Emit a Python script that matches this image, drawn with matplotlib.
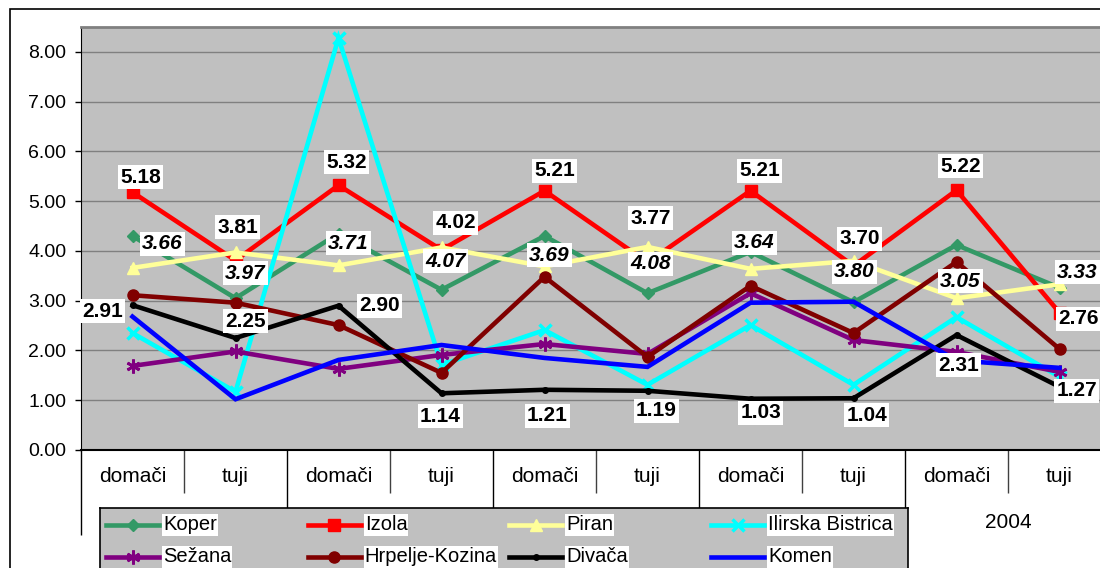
import matplotlib
matplotlib.use('Agg')
import matplotlib.pyplot as plt
import numpy as np
from matplotlib.patches import Rectangle
from matplotlib.ticker import FormatStrFormatter

plt.rcParams['font.family'] = ['Liberation Sans', 'DejaVu Sans']

# data
categories = ['domači', 'tuji'] * 5
year_label = '2004'

koper = [4.30, 3.05, 4.35, 3.22, 4.30, 3.15, 3.98, 2.97, 4.12, 3.26]
izola = [5.18, 3.81, 5.32, 4.02, 5.21, 3.77, 5.21, 3.70, 5.22, 2.76]
piran = [3.66, 3.97, 3.71, 4.07, 3.69, 4.08, 3.64, 3.80, 3.05, 3.33]
ilirska = [2.35, 1.17, 8.28, 1.71, 2.41, 1.31, 2.51, 1.31, 2.67, 1.47]
sezana = [1.69, 1.98, 1.63, 1.91, 2.13, 1.93, 3.15, 2.21, 1.97, 1.57]
hrpelje = [3.11, 2.96, 2.51, 1.55, 3.48, 1.87, 3.30, 2.35, 3.78, 2.03]
divaca = [2.91, 2.25, 2.90, 1.14, 1.21, 1.19, 1.03, 1.04, 2.31, 1.27]
komen = [2.68, 1.02, 1.81, 2.11, 1.85, 1.67, 2.96, 2.98, 1.80, 1.65]

names = ['Koper', 'Izola', 'Piran', 'Ilirska Bistrica',
         'Sežana', 'Hrpelje-Kozina', 'Divača', 'Komen']
values = [koper, izola, piran, ilirska, sezana, hrpelje, divaca, komen]

# styles: colour, marker, marker size, marker edge width
styles = [
    ('#339966', 'D', 6.5, 1),
    ('#FF0000', 's', 8, 1),
    ('#FFFF99', '^', 9, 1),
    ('#00FFFF', 'x', 9, 2.5),
    ('#800080', (6, 2, 0), 10, 2),
    ('#800000', 'o', 8, 1),
    ('#000000', 'o', 4, 1),
    ('#0000FF', None, 0, 1),
]

# label offsets in pixels (dx right, dy down) from the point
izola_off = [(8, -15), (2, -33), (8, -23), (14, -27), (10, -20),
             (3, -44), (9, -20), (6, -27), (4, -24), (19, 6)]
piran_off = [(30, -24), (10, 21), (10, -22), (4, 14), (5, -11),
             (3, 17), (4, -26), (1, 11), (4, -17), (18, -12)]
divaca_off = [(-30, 6), (10, -17), (41, 0), (-1, 23), (3, 26),
              (9, 20), (10, 14), (13, 17), (2, 30), (17, 4)]

W, H = 1100, 568
fig = plt.figure(figsize=(W / 100, H / 100), dpi=100)
fig.patch.set_facecolor('white')

ax = fig.add_axes([81 / W, 1 - 450 / H, 1030 / W, 423 / H])
ax.set_facecolor('#C0C0C0')
x = np.arange(len(categories))

for i, (name, vals, st) in enumerate(zip(names, values, styles)):
    col, mk, ms, mew = st
    ax.plot(x, vals, color=col, lw=3.3, marker=mk, ms=ms, mec=col, mfc=col,
            mew=mew, zorder=3 + i, solid_joinstyle='miter')

ax.set_xlim(-0.5, len(categories) - 0.5)
ax.set_ylim(0, 8.5)
ax.set_yticks(np.arange(0, 9))
ax.yaxis.set_major_formatter(FormatStrFormatter('%.2f'))
ax.grid(axis='y', color='#808080', lw=1)
ax.set_axisbelow(True)
ax.set_xticks(x, categories)
ax.tick_params(axis='x', length=0, pad=12, labelsize=15)
ax.tick_params(axis='y', length=4.5, width=1, pad=6, labelsize=14)
ax.spines['top'].set_color('#808080')
ax.spines['top'].set_linewidth(2)
ax.spines['right'].set_visible(False)
ax.spines['left'].set_color('black')
ax.spines['bottom'].set_color('black')
ax.spines['bottom'].set_linewidth(1.5)

# category separators of the two-level axis
tr = ax.get_xaxis_transform()
ax.vlines(np.arange(0.5, len(categories), 2), 0, -43 / 423, transform=tr,
          clip_on=False, color='#404040', lw=1)
ax.vlines(np.arange(-0.5, len(categories) - 1, 2), 0, -85 / 423, transform=tr,
          clip_on=False, color='black', lw=1)
ax.text(len(categories) - 1.5, -72 / 423, year_label, transform=tr,
        ha='center', va='center', fontsize=15)

# data labels
box = dict(boxstyle='square,pad=0.12', fc='white', ec='none')


def put_labels(vals, offs, italic=False):
    for i, (v, (dx, dy)) in enumerate(zip(vals, offs)):
        ax.annotate(f'{v:.2f}', xy=(i, v), xytext=(dx, -dy),
                    textcoords='offset pixels', ha='center', va='center',
                    fontsize=15, fontweight='bold',
                    fontstyle='italic' if italic else 'normal',
                    bbox=box, zorder=20)


put_labels(izola, izola_off)
put_labels(piran, piran_off, italic=True)
put_labels(divaca, divaca_off)

# legend box, drawn in its own pixel-scaled axes
lax = fig.add_axes([100 / W, (H - 600) / H, 808 / W, 92 / H])
lax.set_xlim(0, 808)
lax.set_ylim(92, 0)
lax.set_facecolor('#C0C0C0')
lax.set_xticks([])
lax.set_yticks([])
for s in lax.spines.values():
    s.set_color('black')
    s.set_linewidth(1.2)

for i, (name, st) in enumerate(zip(names, styles)):
    col, mk, ms, mew = st
    row, c = divmod(i, 4)
    x0 = 6 + 201.7 * c
    yy = 17 + 32 * row
    lax.plot([x0, x0 + 26.5, x0 + 53], [yy] * 3, color=col, lw=3.3, marker=mk,
             ms=ms, mec=col, mfc=col, mew=mew, markevery=[1])
    lax.text(x0 + 57, yy, name, ha='left', va='center', fontsize=14.5,
             bbox=dict(boxstyle='square,pad=0.05', fc='white', ec='none'))

# chart area border
fig.add_artist(Rectangle((10 / W, -0.2), 1.5, 1.2 - 9 / H,
                         transform=fig.transFigure, fill=False,
                         ec='black', lw=1.2))

fig.savefig('out.png', dpi=100)
